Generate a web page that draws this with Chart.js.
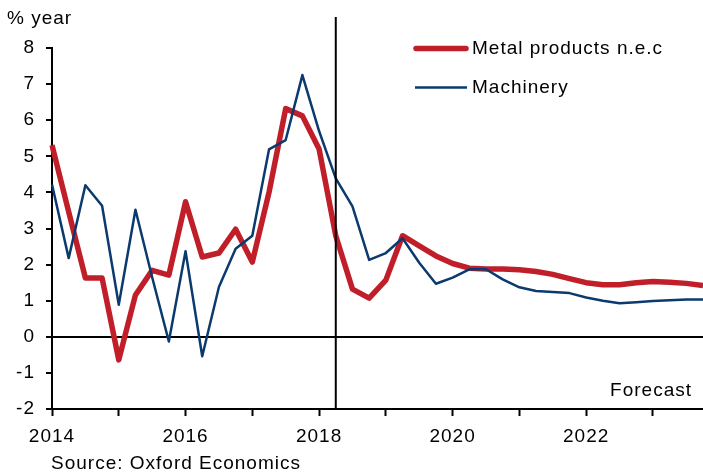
<!DOCTYPE html>
<html><head><meta charset="utf-8">
<script src="https://cdn.jsdelivr.net/npm/chart.js@4/dist/chart.umd.min.js"></script>
<style>html,body{margin:0;padding:0;background:#fff}canvas{display:block}</style>
</head><body>
<canvas id="c" width="703" height="475" style="width:703px;height:475px"></canvas>
<script>
const quarters = [
  '2014Q1','2014Q2','2014Q3','2014Q4','2015Q1','2015Q2','2015Q3','2015Q4',
  '2016Q1','2016Q2','2016Q3','2016Q4','2017Q1','2017Q2','2017Q3','2017Q4',
  '2018Q1','2018Q2','2018Q3','2018Q4','2019Q1','2019Q2','2019Q3','2019Q4',
  '2020Q1','2020Q2','2020Q3','2020Q4','2021Q1','2021Q2','2021Q3','2021Q4',
  '2022Q1','2022Q2','2022Q3','2022Q4','2023Q1','2023Q2','2023Q3','2023Q4'
];
const metalProducts = [
  5.31, 3.46, 1.63, 1.63, -0.64, 1.16, 1.84, 1.71,
  3.74, 2.21, 2.32, 2.98, 2.07, 4.0, 6.32, 6.12,
  5.2, 2.8, 1.32, 1.07, 1.57, 2.8, 2.52, 2.24,
  2.03, 1.9, 1.88, 1.88, 1.86, 1.81, 1.73, 1.61,
  1.5, 1.44, 1.44, 1.5, 1.53, 1.51, 1.48, 1.42
];
const machinery = [
  4.22, 2.18, 4.2, 3.63, 0.89, 3.52, 1.65, -0.13,
  2.37, -0.54, 1.38, 2.44, 2.8, 5.19, 5.45, 7.25,
  5.7, 4.39, 3.61, 2.13, 2.32, 2.73, 2.05, 1.47,
  1.64, 1.87, 1.87, 1.59, 1.37, 1.27, 1.24, 1.21,
  1.09, 1.0, 0.93, 0.96, 0.99, 1.01, 1.03, 1.03
];
const yearTickLabels = {'2014Q1':'2014','2016Q1':'2016','2018Q1':'2018','2020Q1':'2020','2022Q1':'2022'};
const yMin = -2, yMax = 8, yStep = 1;
const forecastStart = '2018Q2';
const yAxisTitle = '% year';
const forecastLabel = 'Forecast';
const sourceLabel = 'Source: Oxford Economics';

const RED = '#C01F2A';
const BLUE = '#0B3A6E';
const FONT = '"Liberation Sans", Arial, sans-serif';
const FS = 19;
const LS = '1px';

const spacing = {
  id: 'spacing',
  beforeUpdate(c) { c.ctx.letterSpacing = LS; },
  beforeDraw(c) { c.ctx.letterSpacing = LS; }
};

const overlay = {
  id: 'overlay',
  afterDatasetsDraw(c) {
    const ctx = c.ctx, xs = c.scales.x, a = c.chartArea;
    const x = xs.getPixelForValue(quarters.indexOf(forecastStart));
    ctx.save();
    ctx.strokeStyle = '#000';
    ctx.lineWidth = 2;
    ctx.beginPath();
    ctx.moveTo(x, 17);
    ctx.lineTo(x, a.bottom);
    ctx.stroke();
    ctx.restore();
  },
  afterDraw(c) {
    const ctx = c.ctx;
    ctx.save();
    ctx.letterSpacing = LS;
    ctx.font = FS + 'px ' + FONT;
    ctx.fillStyle = '#000';
    ctx.textBaseline = 'middle';
    ctx.textAlign = 'left';
    ctx.fillText(yAxisTitle, 7, 19);
    ctx.fillText(sourceLabel, 51, 464);
    ctx.textAlign = 'right';
    ctx.fillText(forecastLabel, 692, 391);
    const rows = [48.5, 87.5];
    c.data.datasets.forEach((ds, i) => {
      const y = rows[i];
      ctx.save();
      ctx.strokeStyle = ds.borderColor;
      ctx.lineWidth = ds.borderWidth;
      ctx.lineCap = i === 0 ? 'round' : 'butt';
      ctx.beginPath();
      if (i === 0) { ctx.moveTo(416, y); ctx.lineTo(466, y); }
      else { ctx.moveTo(415, y); ctx.lineTo(467, y); }
      ctx.stroke();
      ctx.restore();
      ctx.textAlign = 'left';
      ctx.fillText(ds.label, 472, y + 0.5);
    });
    ctx.restore();
  }
};

new Chart(document.getElementById('c').getContext('2d'), {
  type: 'line',
  data: {
    labels: quarters,
    datasets: [
      { label: 'Metal products n.e.c', data: metalProducts, borderColor: RED, backgroundColor: RED,
        borderWidth: 5.5, pointRadius: 0, tension: 0, borderJoinStyle: 'round', order: 1 },
      { label: 'Machinery', data: machinery, borderColor: BLUE, backgroundColor: BLUE,
        borderWidth: 2.5, pointRadius: 0, tension: 0, borderJoinStyle: 'round', order: 0 }
    ]
  },
  options: {
    responsive: false,
    animation: false,
    devicePixelRatio: 1,
    layout: { padding: { top: 48, left: 0, right: 0, bottom: 0 } },
    plugins: { legend: { display: false }, tooltip: { enabled: false } },
    scales: {
      x: {
        type: 'category',
        offset: false,
        border: { color: '#000', width: 2 },
        grid: {
          drawOnChartArea: false, tickLength: 7, tickWidth: 2,
          tickColor: (ctx) => (ctx.index % 4 === 0 ? '#000' : 'rgba(0,0,0,0)')
        },
        ticks: {
          autoSkip: false, maxRotation: 0, minRotation: 0, padding: 9, color: '#000',
          font: { family: FONT, size: FS },
          callback: (v, i) => yearTickLabels[quarters[i]] || ''
        },
        afterFit: (s) => { s.height = 66; s.paddingRight = 0; s.paddingLeft = 0; }
      },
      y: {
        min: yMin, max: yMax,
        border: { color: '#000', width: 2 },
        grid: {
          color: (ctx) => (ctx.tick && ctx.tick.value === 0 ? '#000' : 'rgba(0,0,0,0)'),
          lineWidth: 2, tickLength: 6, tickWidth: 2, tickColor: '#000'
        },
        ticks: { stepSize: yStep, padding: 11, color: '#000', font: { family: FONT, size: FS } },
        afterFit: (s) => { s.width = 52; s.paddingTop = 0; s.paddingBottom = 0; }
      }
    }
  },
  plugins: [spacing, overlay]
});
</script>
</body></html>
